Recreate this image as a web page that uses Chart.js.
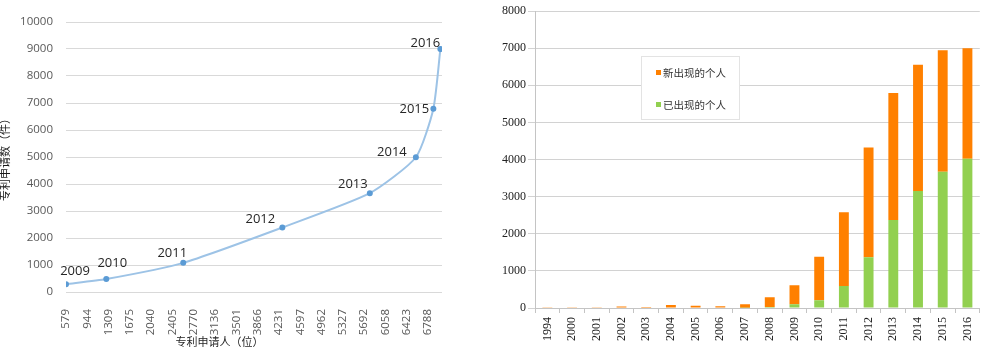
<!DOCTYPE html>
<html>
<head>
<meta charset="utf-8">
<script src="https://cdn.jsdelivr.net/npm/chart.js@4.4.0/dist/chart.umd.min.js"></script>
<style>
  body { margin:0; width:986px; height:352px; overflow:hidden; background:#fff; position:relative; }
  #leftBox { position:absolute; left:-2px; top:0; width:474px; height:352px; }
  #rightBox { position:absolute; left:475px; top:0; width:511px; height:352px; }
</style>
</head>
<body>
<div id="leftBox"><canvas id="curveChart" width="474" height="352"></canvas></div>
<div id="rightBox"><canvas id="barChart" width="511" height="352"></canvas></div>
<script>
// Left chart data: cumulative applicants vs patent applications
const applicantTicks = [579, 944, 1309, 1675, 2040, 2405, 2770, 3136, 3501, 3866, 4231, 4597, 4962, 5327, 5692, 6058, 6423, 6788];
const applicantCounts = [579, 1270, 2590, 4290, 5790, 6580, 6880, 7000];
const patentCounts = [290, 480, 1080, 2390, 3660, 4990, 6790, 9000];
const pointYears = ['2009', '2010', '2011', '2012', '2013', '2014', '2015', '2016'];
const labelOffsets = [[9,-13],[6,-16],[-11,-10],[-22,-8],[-17,-9],[-24,-5],[-19,1],[-15,-6]];

// Right chart data: individuals per year
const years = ['1994','2000','2001','2002','2003','2004','2005','2006','2007','2008','2009','2010','2011','2012','2013','2014','2015','2016'];
const newPeople = [5, 5, 10, 40, 30, 80, 60, 50, 95, 260, 510, 1170, 1990, 2950, 3420, 3400, 3270, 2980];
const oldPeople = [0, 0, 0, 0, 0, 0, 0, 0, 5, 30, 100, 210, 590, 1370, 2370, 3150, 3670, 4020];

// year labels next to each point
const yearLabelPlugin = {
  id: 'yearLabels',
  afterDatasetsDraw(chart) {
    const ctx = chart.ctx;
    const pts = chart.getDatasetMeta(0).data;
    ctx.save();
    ctx.font = '13px "Open Sans"';
    ctx.fillStyle = '#262626';
    ctx.textAlign = 'center';
    ctx.textBaseline = 'middle';
    pts.forEach((p, i) => ctx.fillText(pointYears[i], p.x + labelOffsets[i][0], p.y + labelOffsets[i][1]));
    ctx.restore();
  }
};

// x title sits left of centre in the original
const xTitlePlugin = {
  id: 'xTitle',
  afterDraw(chart) {
    const {ctx, chartArea} = chart;
    ctx.save();
    ctx.font = '11px "Noto Sans CJK SC"';
    ctx.fillStyle = '#262626';
    ctx.textAlign = 'center';
    ctx.textBaseline = 'middle';
    ctx.fillText('专利申请人（位）', chartArea.left + 0.408 * (chartArea.right - chartArea.left), 342);
    ctx.restore();
  }
};

// boxed legend inside the plot area
const boxLegendPlugin = {
  id: 'boxLegend',
  afterDraw(chart) {
    const {ctx, chartArea} = chart;
    const bx = chartArea.left + 106, by = chartArea.top + 45;
    ctx.save();
    ctx.fillStyle = '#fff';
    ctx.strokeStyle = '#e3e3e3';
    ctx.lineWidth = 1;
    ctx.fillRect(bx, by, 98, 63);
    ctx.strokeRect(bx + 0.5, by + 0.5, 98, 63);
    ctx.font = '10.5px "Noto Sans CJK SC"';
    ctx.textBaseline = 'middle';
    const order = [1, 0];
    order.forEach((di, k) => {
      const ds = chart.data.datasets[di];
      const y = by + 17 + k * 32;
      ctx.fillStyle = ds.backgroundColor;
      ctx.fillRect(bx + 15, y - 3, 5, 5);
      ctx.fillStyle = '#333';
      ctx.fillText(ds.label, bx + 22, y);
    });
    ctx.restore();
  }
};

function initCurveChart() {
  const ctx = document.getElementById('curveChart').getContext('2d');
  new Chart(ctx, {
    type: 'line',
    data: {
      datasets: [{
        data: applicantCounts.map((x, i) => ({x: x, y: patentCounts[i]})),
        borderColor: '#9dc3e6',
        borderWidth: 2,
        pointBackgroundColor: '#5b9bd5',
        pointBorderColor: '#5b9bd5',
        pointRadius: 2,
        tension: 0.2,
        fill: false
      }]
    },
    options: {
      responsive: false,
      animation: false,
      layout: { padding: { top: 22, right: 30, left: 0, bottom: 0 } },
      plugins: { legend: { display: false }, tooltip: { enabled: false } },
      scales: {
        x: {
          type: 'linear',
          min: 579,
          max: 7028,
          afterBuildTicks: s => { s.ticks = applicantTicks.map(v => ({ value: v })); },
          afterFit: s => { s.height = 60; },
          grid: { display: false },
          border: { display: false },
          ticks: {
            minRotation: 90, maxRotation: 90, padding: 9, autoSkip: false,
            color: '#595959', font: { family: 'Open Sans', size: 11.5 },
            callback: v => String(v)
          }
        },
        y: {
          min: 0,
          max: 10000,
          afterFit: s => { s.width = 68; },
          grid: { color: '#d9d9d9', drawTicks: false },
          border: { display: false },
          ticks: { stepSize: 1000, padding: 13, color: '#595959', font: { family: 'Open Sans', size: 11.5 }, callback: v => String(v) },
          title: {
            display: true, text: '专利申请数（件）', color: '#1a1a1a',
            font: { family: 'Noto Sans CJK SC', size: 11 }, padding: { top: 0, bottom: 0 }
          }
        }
      }
    },
    plugins: [yearLabelPlugin, xTitlePlugin]
  });
}

function initBarChart() {
  const ctx = document.getElementById('barChart').getContext('2d');
  new Chart(ctx, {
    type: 'bar',
    data: {
      labels: years,
      datasets: [
        { label: '已出现的个人', data: oldPeople, backgroundColor: '#92d050', barPercentage: 0.4, categoryPercentage: 1 },
        { label: '新出现的个人', data: newPeople, backgroundColor: '#ff8000', barPercentage: 0.4, categoryPercentage: 1 }
      ]
    },
    options: {
      responsive: false,
      animation: false,
      layout: { padding: { top: 11, right: 6, left: 0, bottom: 0 } },
      plugins: { legend: { display: false }, tooltip: { enabled: false } },
      scales: {
        x: {
          stacked: true,
          afterFit: s => { s.height = 44; },
          grid: { offset: true, drawOnChartArea: false, tickLength: 5, color: '#c4c4c4' },
          border: { color: '#c4c4c4' },
          ticks: {
            minRotation: 90, maxRotation: 90, padding: 4, autoSkip: false,
            color: '#222', font: { family: 'Liberation Serif', size: 12 }
          }
        },
        y: {
          stacked: true,
          min: 0,
          max: 8000,
          afterFit: s => { s.width = 60; },
          grid: { color: '#d2d2d2', tickLength: 7 },
          border: { color: '#c4c4c4' },
          ticks: { stepSize: 1000, padding: 2, color: '#222', font: { family: 'Liberation Serif', size: 12 }, callback: v => String(v) }
        }
      }
    },
    plugins: [boxLegendPlugin]
  });
}

window.onload = () => { initCurveChart(); initBarChart(); };
</script>
</body>
</html>
